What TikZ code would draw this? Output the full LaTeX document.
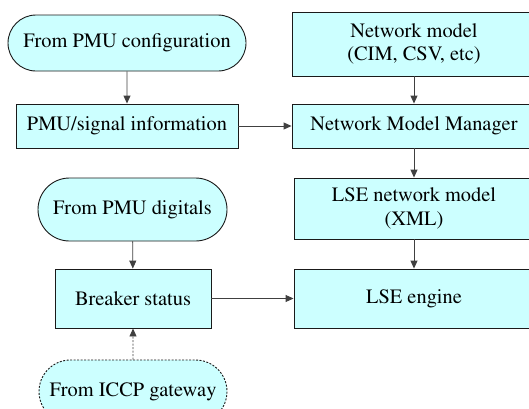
\documentclass[tikz,border=0pt]{standalone}
\usepackage[T1]{fontenc}
\usepackage{times}
\usetikzlibrary{shapes.misc,arrows.meta,shadows}
\definecolor{boxfill}{HTML}{CCFFFF}
\definecolor{edge}{HTML}{1A1A1A}
\begin{document}
\begin{tikzpicture}[x=1pt,y=-1pt,
  every node/.style={font=\rmfamily\fontsize{20.4}{23.5}\selectfont, align=center, inner sep=0pt, text=black},
  box/.style={rectangle, draw=edge, line width=0.9pt, fill=boxfill,
    drop shadow={shadow xshift=1.2pt, shadow yshift=-1.2pt, fill=gray!70, opacity=1}},
  term/.style={rounded rectangle, draw=edge, line width=0.9pt, fill=boxfill},
  link/.style={draw=black!75, line width=0.9pt, -{Triangle[length=8pt,width=7pt]}},
]
\useasboundingbox (0,0) rectangle (529,408);
\clip (0,0) rectangle (529,408);

% left column
\node[term, minimum width=238pt, minimum height=56pt] (cfg) at (127,43) {From PMU configuration};
\node[box, minimum width=222pt, minimum height=44pt] (pmu) at (127,126) {PMU/signal information};
\node[term, minimum width=189pt, minimum height=63pt] (dig) at (132.5,209.5) {From PMU digitals};
\node[box, minimum width=156pt, minimum height=59pt] (brk) at (133,298.5) {Breaker status};
\node[term, dash pattern=on 2pt off 1.5pt, minimum width=188pt, minimum height=63pt] (iccp) at (133,391.5) {From ICCP gateway};

% right column
\node[box, minimum width=244pt, minimum height=64pt] (nm) at (414,44) {Network model\\(CIM, CSV, etc)};
\node[box, minimum width=244pt, minimum height=44pt] (mgr) at (414,126) {Network Model Manager};
\node[box, minimum width=240pt, minimum height=61pt] (lnm) at (414,208.5) {LSE network model\\(XML)};
\node[box, minimum width=240pt, minimum height=59pt] (eng) at (414,298.5) {LSE engine};

% connectors
\draw[link] (cfg) -- (pmu);
\draw[link] (pmu) -- (mgr);
\draw[link] (nm) -- (mgr);
\draw[link] (mgr) -- (lnm);
\draw[link] (lnm) -- (eng);
\draw[link] (dig) -- (brk);
\draw[link] (brk) -- (eng);
\draw[link, dash pattern=on 2pt off 1.5pt] (iccp) -- (brk);
\end{tikzpicture}
\end{document}
